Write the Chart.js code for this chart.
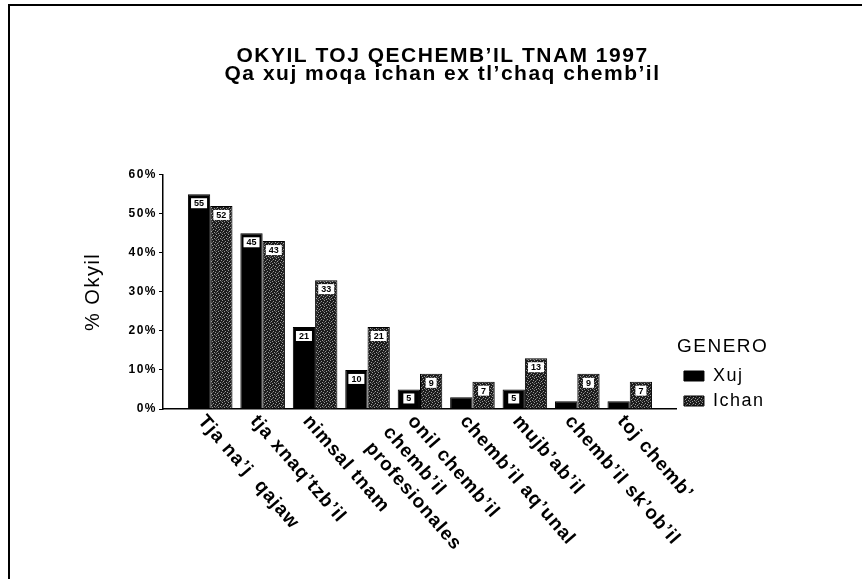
<!DOCTYPE html>
<html>
<head>
<meta charset="utf-8">
<script src="https://cdn.jsdelivr.net/npm/chart.js@4.4.1/dist/chart.umd.min.js"></script>
<style>
  html, body { margin: 0; padding: 0; background: #fff; }
  #wrap { width: 862px; height: 579px; }
</style>
</head>
<body>
<div id="wrap"><canvas id="chart"></canvas></div>
<script>
const categories = [
    ["Tja na’j  qajaw"],
    ["tja xnaq’tzb’il"],
    ["nimsal tnam"],
    ["chemb’il", "profesionales"],
    ["onil chemb’il"],
    ["chemb’il aq’unal"],
    ["mujb’ab’il"],
    ["chemb’il sk’ob’il"],
    ["toj chemb’"]
];
const seriesNames = ["Xuj", "Ichan"];
const xujValues = [55, 45, 21, 10, 5, 3, 5, 2, 2];
const ichanValues = [52, 43, 33, 21, 9, 7, 13, 9, 7];
const yTicks = [0, 10, 20, 30, 40, 50, 60];

const FONT = '"Liberation Sans", Arial, sans-serif';

// speckled fill for the Ichan bars
function speckle() {
    const c = document.createElement("canvas");
    c.width = 6; c.height = 6;
    const g = c.getContext("2d");
    g.fillStyle = "#1c1c1c";
    g.fillRect(0, 0, 6, 6);
    g.fillStyle = "#9a9a9a";
    [[0, 0], [3, 1], [1, 3], [4, 4], [5, 2], [2, 5]].forEach(p => g.fillRect(p[0], p[1], 1, 1));
    g.fillStyle = "#5a5a5a";
    [[2, 2], [5, 5], [0, 4]].forEach(p => g.fillRect(p[0], p[1], 1, 1));
    return g.createPattern(c, "repeat");
}
const ichanFill = speckle();

const framePlugin = {
    id: "frame",
    beforeDraw(chart) {
        const ctx = chart.ctx;
        ctx.save();
        ctx.fillStyle = "#fff";
        ctx.fillRect(0, 0, chart.width, chart.height);
        ctx.strokeStyle = "#000";
        ctx.lineWidth = 2;
        ctx.beginPath();
        ctx.moveTo(9, chart.height);
        ctx.lineTo(9, 5);
        ctx.lineTo(chart.width, 5);
        ctx.stroke();
        ctx.restore();
        // the original type is set wide
        ctx.letterSpacing = "1.5px";
    }
};

// nudge title and legend to where the original has them
const boxShift = {
    id: "boxShift",
    afterLayout(chart) {
        chart.legend.top += 8;
        chart.legend.bottom += 8;
        chart.titleBlock.left += 24;
        chart.titleBlock.right += 24;
    }
};

const valueBoxes = {
    id: "valueBoxes",
    afterDatasetsDraw(chart) {
        const ctx = chart.ctx;
        ctx.save();
        ctx.letterSpacing = "0px";
        ctx.font = "bold 9px " + FONT;
        ctx.textAlign = "center";
        ctx.textBaseline = "middle";
        chart.data.datasets.forEach((ds, di) => {
            chart.getDatasetMeta(di).data.forEach((bar, i) => {
                const v = ds.data[i];
                if (v < 4) return;
                const t = String(v);
                const w = ctx.measureText(t).width + 6, h = 10;
                const top = bar.y + 4;
                ctx.fillStyle = "#fff";
                ctx.fillRect(bar.x - w / 2, top, w, h);
                ctx.fillStyle = "#000";
                ctx.fillText(t, bar.x, top + h / 2 + 0.5);
            });
        });
        ctx.restore();
    }
};

// rotated category labels, reading down to the right
const xLabels = {
    id: "xLabels",
    afterDraw(chart) {
        const ctx = chart.ctx, xs = chart.scales.x;
        const ang = 49 * Math.PI / 180, lh = 24;
        ctx.save();
        ctx.font = "bold 19px " + FONT;
        ctx.letterSpacing = "1px";
        ctx.fillStyle = "#000";
        ctx.textAlign = "left";
        ctx.textBaseline = "middle";
        categories.forEach((lines, i) => {
            const x = xs.getPixelForTick(i);
            ctx.save();
            if (lines.length == 1) ctx.translate(x - 9, xs.top + 9);
            else ctx.translate(x + 19, xs.top + 20);
            ctx.rotate(ang);
            lines.forEach((t, k) => ctx.fillText(t, 0, k * lh));
            ctx.restore();
        });
        ctx.restore();
    }
};

new Chart(document.getElementById("chart"), {
    type: "bar",
    data: {
        labels: categories,
        datasets: [
            {
                label: seriesNames[0],
                data: xujValues,
                backgroundColor: "#000",
                borderColor: "#000",
                borderWidth: 1
            },
            {
                label: seriesNames[1],
                data: ichanValues,
                backgroundColor: ichanFill,
                borderColor: "#000",
                borderWidth: 1
            }
        ]
    },
    options: {
        responsive: true,
        maintainAspectRatio: false,
        animation: false,
        datasets: {
            bar: { barPercentage: 1.0, categoryPercentage: 0.85 }
        },
        layout: { padding: { left: 70, right: 95, top: 0, bottom: 162 } },
        plugins: {
            title: {
                display: true,
                text: ["OKYIL TOJ QECHEMB’IL TNAM 1997", "Qa xuj moqa ichan ex tl’chaq chemb’il"],
                color: "#000",
                font: { family: FONT, size: 21, weight: "bold", lineHeight: 0.85 },
                padding: { top: 47, bottom: 92 }
            },
            legend: {
                display: true,
                position: "right",
                align: "end",
                fullSize: false,
                title: {
                    display: true,
                    text: "GENERO",
                    position: "start",
                    color: "#000",
                    font: { family: FONT, size: 19 },
                    padding: 0
                },
                labels: {
                    color: "#000",
                    font: { family: FONT, size: 18 },
                    boxWidth: 20,
                    boxHeight: 10,
                    padding: 7
                }
            },
            tooltip: { enabled: false }
        },
        scales: {
            x: {
                afterBuildTicks: s => {
                    // bars sit in from the value axis, as in the original
                    s._startValue = -0.9;
                    s._valueRange = categories.length + 0.8;
                },
                ticks: { display: false },
                grid: { display: false },
                border: { display: true, color: "#000", width: 1.5 }
            },
            y: {
                min: yTicks[0],
                max: yTicks[yTicks.length - 1],
                afterFit: s => { s.width = 93; },
                ticks: {
                    stepSize: yTicks[1] - yTicks[0],
                    color: "#000",
                    font: { family: FONT, size: 12, weight: "bold" },
                    padding: 2,
                    callback: v => v + "%"
                },
                grid: { display: true, drawOnChartArea: false, drawTicks: true, tickLength: 4, color: "#000" },
                border: { display: true, color: "#000", width: 1.5 },
                title: {
                    display: true,
                    text: "% Okyil",
                    color: "#000",
                    font: { family: FONT, size: 20 },
                    padding: { top: 11, bottom: 0 }
                }
            }
        }
    },
    plugins: [framePlugin, boxShift, valueBoxes, xLabels]
});
</script>
</body>
</html>
